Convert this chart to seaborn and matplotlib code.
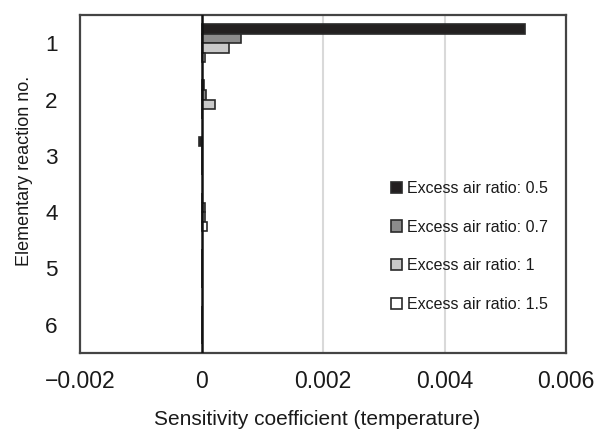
import matplotlib
matplotlib.use("Agg")
import matplotlib.pyplot as plt
import seaborn as sns
import pandas as pd
from matplotlib.patches import Patch

reactions = ["1", "2", "3", "4", "5", "6"]
ratios = ["Excess air ratio: 0.5", "Excess air ratio: 0.7",
          "Excess air ratio: 1", "Excess air ratio: 1.5"]
vals_05 = [0.00532, 0.00004, -0.00004, 0.00001, 0.0, 0.0]
vals_07 = [0.00065, 0.00008, 0.0, 0.00005, 0.0, 0.0]
vals_10 = [0.00045, 0.00023, 0.0, 0.00005, 0.0, 0.0]
vals_15 = [0.00006, 0.0, 0.0, 0.00009, 0.0, 0.0]
colors = ["#231f20", "#8c8c8c", "#c9c9c9", "#ffffff"]
xticks = [-0.002, 0, 0.002, 0.004, 0.006]
xticklabels = ["\u22120.002", "0", "0.002", "0.004", "0.006"]

rows = []
for lab, vals in zip(ratios, [vals_05, vals_07, vals_10, vals_15]):
    for r, v in zip(reactions, vals):
        rows.append({"reaction": r, "value": v, "ratio": lab})
df = pd.DataFrame(rows)

sns.set_style("white")
plt.rcParams["font.family"] = ["Liberation Sans", "DejaVu Sans"]
plt.rcParams["text.color"] = "#1a1a1a"
plt.rcParams["axes.labelcolor"] = "#1a1a1a"
plt.rcParams["xtick.color"] = "#1a1a1a"
plt.rcParams["ytick.color"] = "#1a1a1a"

fig = plt.figure(figsize=(5.97, 4.30), dpi=100)
ax = fig.add_axes([80 / 597, 1 - 353 / 430, (566 - 80) / 597, (353 - 15) / 430])

sns.barplot(data=df, x="value", y="reaction", hue="ratio", order=reactions,
            hue_order=ratios, palette=colors, orient="h", width=0.68,
            edgecolor="#2a2a2a", linewidth=1.2, ax=ax, legend=False, zorder=3)

ax.set_xlim(-0.002, 0.006)
ax.set_xticks(xticks)
ax.set_xticklabels(xticklabels, fontsize=16.5)
ax.tick_params(axis="y", labelsize=16.2, length=0, pad=16)
ax.tick_params(axis="x", length=0, pad=12)
for x in [0.002, 0.004]:
    ax.axvline(x, color="#d9d9d9", lw=1.5, zorder=1)
ax.axvline(0, color="#111111", lw=1.8, zorder=4)
for s in ax.spines.values():
    s.set_color("#444444")
    s.set_linewidth(1.6)

ax.set_xlabel("Sensitivity coefficient (temperature)", fontsize=15)
ax.xaxis.set_label_coords((317 - 80) / (566 - 80), -(410 - 353) / (353 - 15), transform=ax.transAxes)
ax.xaxis.label.set_va("top")
ax.set_ylabel("Elementary reaction no.", fontsize=13)
ax.yaxis.set_label_coords(-(80 - 33) / (566 - 80), (353 - 171) / (353 - 15), transform=ax.transAxes)
ax.yaxis.label.set_va("bottom")

handles = [Patch(facecolor=c, edgecolor="#2a2a2a", linewidth=1.2) for c in colors]
fig.legend(handles, ratios, loc="upper left", bbox_to_anchor=(391 / 597, 1 - 181 / 430),
           frameon=False, borderpad=0, borderaxespad=0, handlelength=0.7,
           handleheight=0.7, handletextpad=0.3, labelspacing=1.48,
           prop={"family": ["Liberation Sans"], "size": 11.5})

fig.savefig("out.png", dpi=100)
